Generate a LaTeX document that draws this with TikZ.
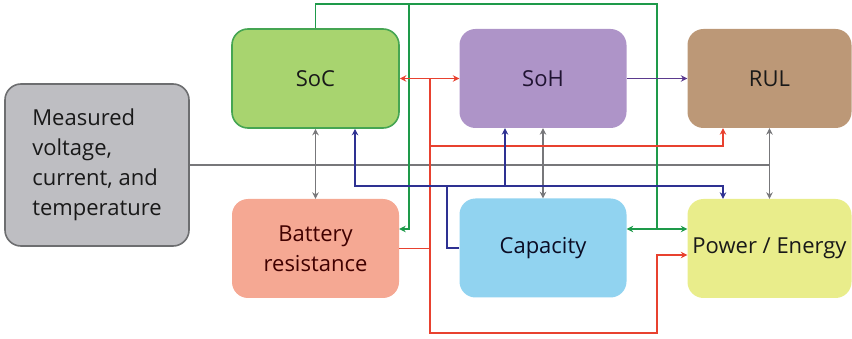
\documentclass[tikz,border=0pt]{standalone}
\usepackage{fontspec}
\setmainfont{Open Sans}
\usetikzlibrary{arrows.meta,positioning,calc}

\definecolor{measfill}{HTML}{BEBEC2}
\definecolor{measdraw}{HTML}{6D6E70}
\definecolor{socfill}{HTML}{A8D46F}
\definecolor{socdraw}{HTML}{45A552}
\definecolor{sohfill}{HTML}{AE94C8}
\definecolor{rulfill}{HTML}{BC9877}
\definecolor{batfill}{HTML}{F5A893}
\definecolor{capfill}{HTML}{91D3F0}
\definecolor{powfill}{HTML}{E9ED8B}
\definecolor{wiregray}{HTML}{77777A}
\definecolor{wiregreen}{HTML}{1E9A4A}
\definecolor{wirered}{HTML}{E8412F}
\definecolor{wirenavy}{HTML}{2E3192}
\definecolor{wirepurple}{HTML}{5B3A8E}

\begin{document}
\begin{tikzpicture}[
    x=1pt, y=-1pt,
    >={Stealth[length=6.5pt,width=6.5pt]},
    block/.style={rectangle, rounded corners=16pt, minimum width=167pt, minimum height=99pt, inner sep=0pt, align=center, font=\fontsize{22}{30}\selectfont},
    wire/.style={line width=1.8pt}
]
\useasboundingbox (0,0) rectangle (852,339);

% Measured input
\node (meas) at (97,165) [block, minimum width=184pt, minimum height=162pt, fill=measfill, draw=measdraw, line width=1.6pt, align=left, text=black!90] {
  Measured\\
  voltage,\\
  current, and\\
  temperature
};

% top row
\node (soc) at (315.5,78.5) [block, fill=socfill, draw=socdraw, line width=1.6pt, text=black!90] {SoC};
\node (soh) at (543,78.5) [block, fill=sohfill, text=wirepurple!35!black] {SoH};
\node (rul) at (769.5,78.5) [block, minimum width=164pt, fill=rulfill, text=black!90] {RUL};

% bottom row
\node (bat) at (315.5,248.5) [block, fill=batfill, text=red!25!black] {Battery\\resistance};
\node (cap) at (543,248) [block, fill=capfill, text=wirenavy!25!black] {Capacity};
\node (pow) at (769.5,248.5) [block, minimum width=164pt, fill=powfill, text=black!90] {Power / Energy};

% junctions
\coordinate (gtop) at (657,4);
\coordinate (gleft) at (409,4);
\coordinate (gmid) at (657,229);
\coordinate (rtop) at (430,78.5);
\coordinate (rrul) at (430,146);
\coordinate (rbot) at (430,333);
\coordinate (rpw) at (657,255);
\coordinate (nl) at (355,186);
\coordinate (nr) at (723,186);
\coordinate (nsoh) at (505,186);
\coordinate (ncap) at (447,186);

% gray: measurements
\draw[wire, wiregray] (meas.east) -- (meas.east -| rul.south);
\draw[wire, wiregray, <->] (soc.south) -- (bat.north);
\draw[wire, wiregray, <->] (soh.south) -- (cap.north);
\draw[wire, wiregray, <->] (rul.south) -- (pow.north);

% green: SoC
\draw[wire, wiregreen] (soc.north) |- (gtop) -- (gmid);
\draw[wire, wiregreen, ->] (gleft) |- (bat.east |- gmid);
\draw[wire, wiregreen, <->] (cap.east |- gmid) -- (pow.west |- gmid);

% red: resistance
\draw[wire, wirered, <->] (soc.east) -- (soh.west);
\draw[wire, wirered] (bat.east) -- (bat.east -| rtop);
\draw[wire, wirered, ->] (rtop) -- (rbot) -| (rpw) -- (pow.west |- rpw);
\draw[wire, wirered, ->] (rrul) -| (rul.south -| nr);

% navy: capacity
\draw[wire, wirenavy, <->] (soc.south -| nl) -- (nl) -- (nr) -- (pow.north -| nr);
\draw[wire, wirenavy, ->] (nsoh) -- (soh.south -| nsoh);
\draw[wire, wirenavy] (cap.west) -| (ncap);

% SoH to RUL
\draw[wire, wirepurple, ->] (soh.east) -- (rul.west);

\end{tikzpicture}
\end{document}
